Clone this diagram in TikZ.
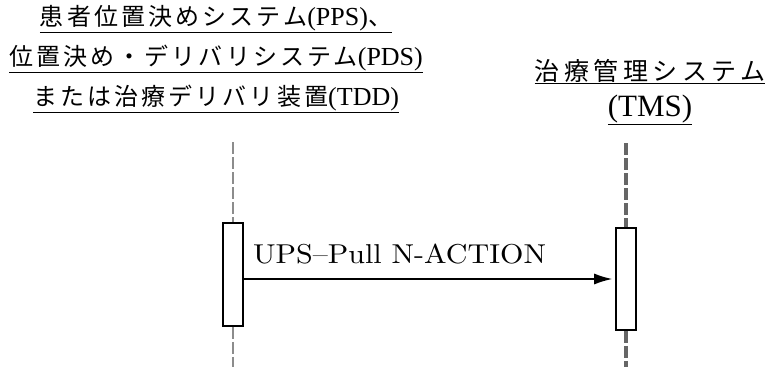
\documentclass[tikz,border=0pt]{standalone}
\usepackage{fontspec}
\setmainfont{lmroman10-regular.otf}[FakeStretch=1.1]
\newfontfamily\jp{Noto Sans CJK JP}[LetterSpace=13]
\newfontfamily\jpwide{Noto Sans CJK JP}[LetterSpace=18]
\newfontfamily\lat{Liberation Serif}
\newcommand{\abbr}[1]{{\lat\fontsize{26pt}{40pt}\selectfont(#1)}}
\usetikzlibrary{arrows.meta}

\begin{document}
\begin{tikzpicture}[x=1pt,y=-1pt]
    \tikzstyle{heading}=[inner sep=0pt,align=center]
    \tikzstyle{act}=[draw=black,line width=1.6pt,fill=white,minimum width=20pt,inner sep=0pt]
    \tikzstyle{life}=[dash pattern=on 12pt off 3pt]
    \tikzstyle{msg}=[draw=black,line width=1.4pt,-{Latex[length=18pt,width=11pt]},shorten >=3pt]

    \useasboundingbox (0,0) rectangle (767,367);

    \node[heading,font={\jp\fontsize{24pt}{40pt}\selectfont}] (pps) at (216,59)
        {\underline{患者位置決めシステム\abbr{PPS}、}\\
         \underline{位置決め・デリバリシステム\abbr{PDS}}\\
         \underline{または治療デリバリ装置\abbr{TDD}}};
    \node[heading,font={\jpwide\fontsize{25pt}{36pt}\selectfont}] (tms) at (650,92)
        {\underline{治療管理システム}\\
         \underline{\lat\fontsize{31pt}{36pt}\selectfont(TMS)}};

    \coordinate (top1) at (233,142);
    \coordinate (bot1) at (233,367);
    \coordinate (top2) at (626,143);
    \coordinate (bot2) at (626,367);

    \node[act,minimum height=103pt] (act1) at (233,274.5) {};
    \node[act,minimum height=102pt] (act2) at (626,279) {};

    \path[life,draw=black!45,line width=1.8pt] (top1) -- (act1.north);
    \path[life,draw=black!45,line width=1.8pt] (act1.south) -- (bot1);
    \path[life,draw=black!60,line width=3.6pt] (top2) -- (act2.north);
    \path[life,draw=black!60,line width=3.6pt] (act2.south) -- (bot2);

    \node[anchor=base west,inner sep=0pt,font={\fontsize{27.3pt}{30pt}\selectfont}] (msgtext) at (253,263) {UPS--Pull N-ACTION};
    \draw[msg] (act1.east |- act2.west) -- (act2.west);
\end{tikzpicture}
\end{document}
